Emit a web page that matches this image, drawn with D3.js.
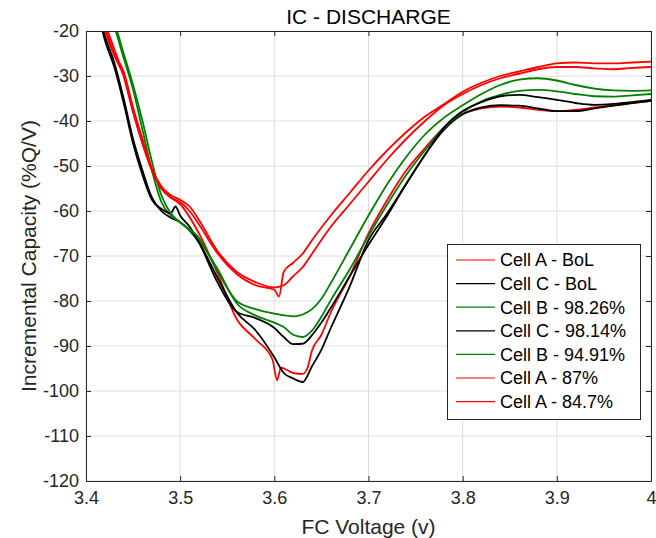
<!DOCTYPE html>
<html>
<head>
<meta charset="utf-8">
<script src="https://cdn.jsdelivr.net/npm/d3@7"></script>
<style>
  html, body { margin: 0; padding: 0; background: #fff; }
  svg { display: block; font-family: "Liberation Sans", Arial, Helvetica, sans-serif; }
</style>
</head>
<body>
<svg id="chart" width="656" height="538"></svg>
<script>
// ---- data ----
const titleText = "IC - DISCHARGE";
const xLabel = "FC Voltage (v)";
const yLabel = "Incremental Capacity (%Q/V)";
const xTicks = [3.4, 3.5, 3.6, 3.7, 3.8, 3.9, 4.0];
const xTickLabels = ["3.4", "3.5", "3.6", "3.7", "3.8", "3.9", "4"];
const yTicks = [-20, -30, -40, -50, -60, -70, -80, -90, -100, -110, -120];
const yTickLabels = ["-20", "-30", "-40", "-50", "-60", "-70", "-80", "-90", "-100", "-110", "-120"];

const seriesNames = ["Cell A - BoL", "Cell C - BoL", "Cell B - 98.26%", "Cell C - 98.14%", "Cell B - 94.91%", "Cell A - 87%", "Cell A - 84.7%"];
const seriesColors = ["#ff0000", "#000000", "#008000", "#000000", "#008000", "#ff0000", "#ff0000"];

const cellA_BoL = [[3.41,-10],[3.42,-18],[3.43,-24],[3.44,-30],[3.45,-38],[3.46,-45],[3.47,-51],[3.48,-55],[3.49,-57],[3.50,-58.5],[3.52,-65],[3.54,-74],[3.56,-84],[3.58,-88.5],[3.598,-93],[3.603,-97.6],[3.607,-94.8],[3.62,-96],[3.63,-96.2],[3.635,-95],[3.64,-91],[3.65,-87.5],[3.66,-82.5],[3.68,-74.5],[3.70,-65],[3.72,-57.5],[3.74,-51],[3.76,-46],[3.78,-41.5],[3.80,-38.5],[3.82,-37.2],[3.84,-36.8],[3.86,-37],[3.88,-37.5],[3.90,-37.8],[3.92,-37.5],[3.94,-37],[3.96,-36.5],[3.98,-36],[4.00,-35.5]];
const cellC_BoL = [[3.41,-12],[3.42,-21],[3.43,-27],[3.44,-35],[3.45,-44],[3.46,-51],[3.47,-57],[3.48,-60],[3.49,-61.5],[3.50,-62.5],[3.52,-67],[3.54,-75],[3.56,-82.5],[3.58,-86.5],[3.60,-92.5],[3.61,-96],[3.62,-97.2],[3.63,-98],[3.64,-94.5],[3.65,-90.8],[3.66,-86],[3.68,-76.8],[3.70,-66.5],[3.72,-60.5],[3.74,-54],[3.76,-47.5],[3.78,-42],[3.80,-38.5],[3.82,-37],[3.84,-36.5],[3.86,-36.6],[3.88,-37.2],[3.90,-37.8],[3.92,-37.8],[3.94,-37.2],[3.96,-36.6],[3.98,-36],[4.00,-35.5]];
const cellB_9826 = [[3.42,-14],[3.43,-19],[3.44,-26],[3.45,-33],[3.46,-42],[3.47,-51],[3.48,-58],[3.49,-61],[3.50,-62.5],[3.52,-66.5],[3.54,-73],[3.56,-80.5],[3.58,-83.2],[3.60,-84.8],[3.61,-85.8],[3.62,-87.5],[3.63,-88],[3.64,-86.6],[3.65,-83.5],[3.66,-79.8],[3.68,-73],[3.70,-65.5],[3.72,-58.5],[3.74,-52],[3.76,-46.5],[3.78,-41.5],[3.80,-38],[3.82,-35.6],[3.84,-34.2],[3.86,-33.3],[3.88,-33.1],[3.90,-33.4],[3.92,-34],[3.94,-34.5],[3.96,-34.6],[3.98,-34.3],[4.00,-34]];
const cellC_9814 = [[3.41,-13],[3.42,-22],[3.43,-28],[3.44,-36],[3.45,-45],[3.46,-52],[3.47,-57.5],[3.48,-59.5],[3.49,-60.5],[3.495,-59],[3.50,-61],[3.51,-63.5],[3.52,-67],[3.54,-76],[3.56,-82.4],[3.58,-83.8],[3.60,-86],[3.61,-88],[3.62,-89.6],[3.63,-89.5],[3.64,-87.6],[3.65,-84.8],[3.66,-81.5],[3.68,-74.5],[3.70,-67.5],[3.72,-61],[3.74,-54],[3.76,-47.5],[3.78,-41.5],[3.80,-37.8],[3.82,-35.8],[3.84,-34.5],[3.86,-34.2],[3.88,-34.7],[3.90,-35.3],[3.92,-36],[3.94,-36.4],[3.96,-36.2],[3.98,-35.8],[4.00,-35.3]];
const cellB_9491 = [[3.42,-13],[3.43,-18],[3.44,-25],[3.45,-32],[3.46,-40],[3.47,-49],[3.48,-56.5],[3.49,-60.5],[3.50,-62.5],[3.52,-66],[3.54,-73.5],[3.56,-80],[3.58,-81.8],[3.60,-82.8],[3.62,-83.4],[3.63,-83],[3.64,-81.8],[3.65,-79.5],[3.66,-76],[3.68,-68.5],[3.70,-61],[3.72,-54],[3.74,-48],[3.76,-43],[3.78,-39.3],[3.80,-36.5],[3.82,-34],[3.84,-32],[3.86,-30.8],[3.88,-30.5],[3.90,-31],[3.92,-32],[3.94,-32.8],[3.96,-33.2],[3.98,-33.3],[4.00,-33.2]];
const cellA_87 = [[3.41,-12],[3.42,-19],[3.43,-25],[3.44,-29],[3.45,-37],[3.46,-44],[3.47,-50.5],[3.48,-54.5],[3.49,-56.5],[3.50,-57.5],[3.51,-59],[3.52,-62],[3.54,-69],[3.56,-73.5],[3.58,-75.8],[3.60,-77],[3.61,-76.5],[3.62,-74.5],[3.63,-72.5],[3.64,-69.5],[3.66,-63.5],[3.68,-58.5],[3.70,-53.5],[3.72,-48.5],[3.74,-44],[3.76,-40],[3.78,-36.5],[3.80,-34],[3.82,-32],[3.84,-30.5],[3.86,-29.5],[3.88,-28.5],[3.90,-28],[3.92,-28],[3.94,-28.3],[3.96,-28.5],[3.98,-28.2],[4.00,-28]];
const cellA_847 = [[3.41,-13],[3.42,-20],[3.43,-25.5],[3.44,-30],[3.45,-38],[3.46,-45],[3.47,-51],[3.48,-55],[3.49,-57],[3.50,-58],[3.51,-60],[3.52,-63],[3.54,-69.5],[3.56,-74],[3.58,-76.5],[3.60,-77.5],[3.605,-79],[3.61,-73.5],[3.62,-71.5],[3.63,-69.5],[3.64,-66.5],[3.66,-61],[3.68,-56],[3.70,-51],[3.72,-46.5],[3.74,-42.5],[3.76,-39],[3.78,-36.3],[3.80,-33.5],[3.82,-31.5],[3.84,-30],[3.86,-29],[3.88,-28],[3.90,-27.2],[3.92,-27],[3.94,-27.2],[3.96,-27.2],[3.98,-27],[4.00,-26.8]];

const seriesData = [cellA_BoL, cellC_BoL, cellB_9826, cellC_9814, cellB_9491, cellA_87, cellA_847];

// ---- layout ----
const svg = d3.select("#chart");
const plot = { left: 86, right: 651, top: 31, bottom: 481 };
const axisColor = "#262626";

const x = d3.scaleLinear().domain([3.4, 4.0]).range([plot.left, plot.right]);
const y = d3.scaleLinear().domain([-120, -20]).range([plot.bottom, plot.top]);

// grid
const grid = svg.append("g");
grid.selectAll("line.gx").data(xTicks).enter().append("line")
  .attr("x1", d => x(d)).attr("x2", d => x(d))
  .attr("y1", plot.top).attr("y2", plot.bottom)
  .attr("stroke", "#dedede").attr("stroke-width", 1);
grid.selectAll("line.gy").data(yTicks).enter().append("line")
  .attr("y1", d => y(d)).attr("y2", d => y(d))
  .attr("x1", plot.left).attr("x2", plot.right)
  .attr("stroke", "#dedede").attr("stroke-width", 1);

// clip
svg.append("clipPath").attr("id", "clip").append("rect")
  .attr("x", plot.left).attr("y", plot.top)
  .attr("width", plot.right - plot.left).attr("height", plot.bottom - plot.top);

const line = d3.line().x(d => x(d[0])).y(d => y(d[1])).curve(d3.curveMonotoneX);
const lines = svg.append("g").attr("clip-path", "url(#clip)");
seriesData.forEach((s, i) => {
  lines.append("path").datum(s)
    .attr("d", line)
    .attr("fill", "none")
    .attr("stroke", seriesColors[i])
    .attr("stroke-width", 1.8)
    .attr("stroke-linejoin", "round");
});

// axes (bottom/left with labels, top/right mirrored ticks)
const xAxis = d3.axisBottom(x).tickValues(xTicks).tickFormat((d, i) => xTickLabels[i]).tickSizeInner(-5).tickSizeOuter(0).tickPadding(10);
const yAxis = d3.axisLeft(y).tickValues(yTicks).tickFormat((d, i) => yTickLabels[i]).tickSizeInner(-5).tickSizeOuter(0).tickPadding(7);
const xAxisTop = d3.axisTop(x).tickValues(xTicks).tickFormat("").tickSizeInner(-5).tickSizeOuter(0);
const yAxisRight = d3.axisRight(y).tickValues(yTicks).tickFormat("").tickSizeInner(-5).tickSizeOuter(0);

function styleAxis(g) {
  g.select(".domain").attr("stroke", axisColor).attr("stroke-width", 1);
  g.selectAll(".tick line").attr("stroke", axisColor);
  g.selectAll(".tick text").attr("fill", axisColor).style("font-size", "18px")
    .style("font-family", "'Liberation Sans', Arial, sans-serif");
}
svg.append("g").attr("transform", `translate(0,${plot.bottom})`).call(xAxis).call(styleAxis);
svg.append("g").attr("transform", `translate(${plot.left},0)`).call(yAxis).call(styleAxis);
svg.append("g").attr("transform", `translate(0,${plot.top})`).call(xAxisTop).call(styleAxis);
svg.append("g").attr("transform", `translate(${plot.right},0)`).call(yAxisRight).call(styleAxis);

// title & labels
svg.append("text").attr("x", (plot.left + plot.right) / 2).attr("y", 24)
  .attr("text-anchor", "middle").attr("fill", "#000").style("font-size", "21px").text(titleText);
svg.append("text").attr("x", (plot.left + plot.right) / 2).attr("y", 534)
  .attr("text-anchor", "middle").attr("fill", axisColor).style("font-size", "21px").text(xLabel);
svg.append("text").attr("transform", `translate(36,${(plot.top + plot.bottom) / 2}) rotate(-90)`)
  .attr("text-anchor", "middle").attr("fill", axisColor).style("font-size", "21px").text(yLabel);

// legend
const lg = svg.append("g");
lg.append("rect").attr("x", 447.5).attr("y", 244.5).attr("width", 193).attr("height", 175)
  .attr("fill", "#fff").attr("stroke", axisColor).attr("stroke-width", 1);
seriesNames.forEach((name, i) => {
  const yy = 260 + i * 23.6;
  lg.append("line").attr("x1", 456).attr("x2", 495).attr("y1", yy).attr("y2", yy)
    .attr("stroke", seriesColors[i]).attr("stroke-width", 1.2);
  lg.append("text").attr("x", 500).attr("y", yy).attr("dy", "0.35em")
    .attr("fill", "#000").style("font-size", "18px").text(name);
});
</script>
</body>
</html>
